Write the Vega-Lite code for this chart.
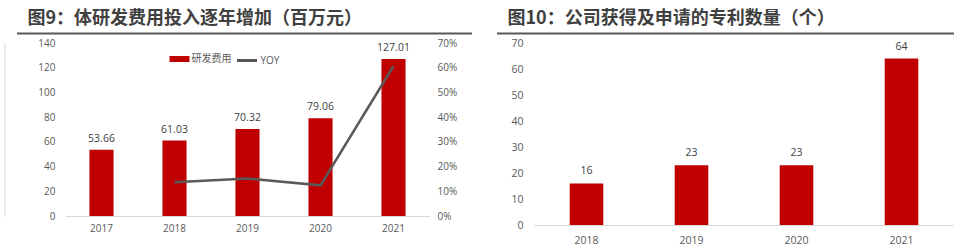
{
  "$schema": "https://vega.github.io/schema/vega-lite/v6.json",
  "background": "white",
  "padding": {"left": 4.5, "top": 10, "right": 0, "bottom": 0},
  "config": {
    "view": {"stroke": null},
    "font": "'Open Sans', 'Noto Sans CJK SC', sans-serif",
    "axis": {"labelColor": "#595959", "labelFontSize": 10, "ticks": false, "domain": false, "grid": false, "labelFont": "'Open Sans', 'Noto Sans CJK SC', sans-serif"},
    "title": {"font": "Noto Sans CJK SC", "fontWeight": "bold", "fontSize": 18, "color": "#404040", "anchor": "start", "frame": "group", "offset": 5},
    "legend": {"labelColor": "#595959", "labelFontSize": 10, "labelFont": "'Open Sans', 'Noto Sans CJK SC', sans-serif", "padding": 0, "labelOffset": 2, "title": null}
  },
  "spacing": 25,
  "hconcat": [
    {
      "title": {"text": "图9：体研发费用投入逐年增加（百万元）", "dx": 11},
      "width": 455, "height": 173,
      "data": {"values": [
        {"year": "2017", "rd": 53.66, "yoy": null},
        {"year": "2018", "rd": 61.03, "yoy": 0.137},
        {"year": "2019", "rd": 70.32, "yoy": 0.152},
        {"year": "2020", "rd": 79.06, "yoy": 0.124},
        {"year": "2021", "rd": 127.01, "yoy": 0.607}
      ]},
      "layer": [
        {
          "encoding": {
            "x": {"field": "year", "type": "ordinal", "scale": {"range": [48.5, 413.5], "paddingInner": 0.67, "paddingOuter": 0.335},
                  "axis": {"title": null, "labelAngle": 0, "domain": true, "domainColor": "#D9D9D9", "domainWidth": 1, "labelPadding": 7}}
          },
          "layer": [
            {
              "encoding": {
                "y": {"field": "rd", "type": "quantitative", "scale": {"domain": [0, 140]},
                      "axis": {"title": null, "values": [0, 20, 40, 60, 80, 100, 120, 140], "labelPadding": 10, "offset": -48.5}}
              },
              "layer": [
                {
                  "mark": {"type": "bar"},
                  "encoding": {
                    "fill": {"datum": "研发费用", "scale": {"range": ["#C00000"]},
                             "legend": {"orient": "none", "legendX": 153, "legendY": 6, "symbolType": "M-1,-0.3H1V0.3H-1Z", "symbolSize": 400, "symbolStrokeWidth": 0}}
                  }
                },
                {
                  "mark": {"type": "text", "baseline": "bottom", "dy": -6, "fontSize": 10.5, "color": "#404040"},
                  "encoding": {"text": {"field": "rd", "type": "quantitative", "format": ".2f"}}
                }
              ]
            },
            {
              "mark": {"type": "line", "strokeWidth": 2.5},
              "encoding": {
                "y": {"field": "yoy", "type": "quantitative", "scale": {"domain": [0, 0.7]},
                      "axis": {"title": null, "orient": "right", "format": ".0%", "values": [0, 0.1, 0.2, 0.3, 0.4, 0.5, 0.6, 0.7], "labelPadding": 7, "offset": -41.5}},
                "stroke": {"datum": "YOY", "scale": {"range": ["#595959"]},
                           "legend": {"orient": "none", "legendX": 219, "legendY": 6, "symbolType": "stroke", "symbolSize": 400, "symbolStrokeWidth": 3}}
              }
            }
          ],
          "resolve": {"scale": {"y": "independent"}}
        },
        {
          "mark": {"type": "rule", "opacity": 0},
          "encoding": {
            "x": {"datum": 0, "type": "quantitative", "scale": {"domain": [0, 1]},
                  "axis": {"orient": "top", "title": null, "labels": false, "ticks": false, "domain": true, "domainColor": "#595959", "domainWidth": 2, "offset": 10}},
            "y": {"datum": 0, "type": "quantitative", "scale": {"domain": [0, 1]},
                  "axis": {"orient": "left", "title": null, "labels": false, "ticks": false, "domain": true, "domainColor": "#D9D9D9", "domainWidth": 1, "offset": 12}}
          }
        }
      ],
      "resolve": {"scale": {"x": "independent", "y": "independent"}}
    },
    {
      "title": {"text": "图10：公司获得及申请的专利数量（个）", "dx": 11},
      "width": 457, "height": 182,
      "data": {"values": [
        {"year": "2018", "patents": 16},
        {"year": "2019", "patents": 23},
        {"year": "2020", "patents": 23},
        {"year": "2021", "patents": 64}
      ]},
      "layer": [
        {
          "encoding": {
            "x": {"field": "year", "type": "ordinal", "scale": {"range": [37.5, 457.5], "paddingInner": 0.68, "paddingOuter": 0.34},
                  "axis": {"title": null, "labelAngle": 0, "domain": true, "domainColor": "#D9D9D9", "domainWidth": 1, "labelPadding": 10, "labelFontSize": 10.5}},
            "y": {"field": "patents", "type": "quantitative", "scale": {"domain": [0, 70]},
                  "axis": {"title": null, "values": [0, 10, 20, 30, 40, 50, 60, 70], "labelPadding": 11, "offset": -37.5, "labelFontSize": 10.5}}
          },
          "layer": [
            {"mark": {"type": "bar", "color": "#C00000"}},
            {
              "mark": {"type": "text", "baseline": "bottom", "dy": -7, "fontSize": 10.5, "color": "#404040"},
              "encoding": {"text": {"field": "patents", "type": "quantitative"}}
            }
          ]
        },
        {
          "mark": {"type": "rule", "opacity": 0},
          "encoding": {
            "x": {"datum": 0, "type": "quantitative", "scale": {"domain": [0, 1]},
                  "axis": {"orient": "top", "title": null, "labels": false, "ticks": false, "domain": true, "domainColor": "#595959", "domainWidth": 2, "offset": 10}}
          }
        }
      ],
      "resolve": {"scale": {"x": "independent", "y": "independent"}}
    }
  ]
}
